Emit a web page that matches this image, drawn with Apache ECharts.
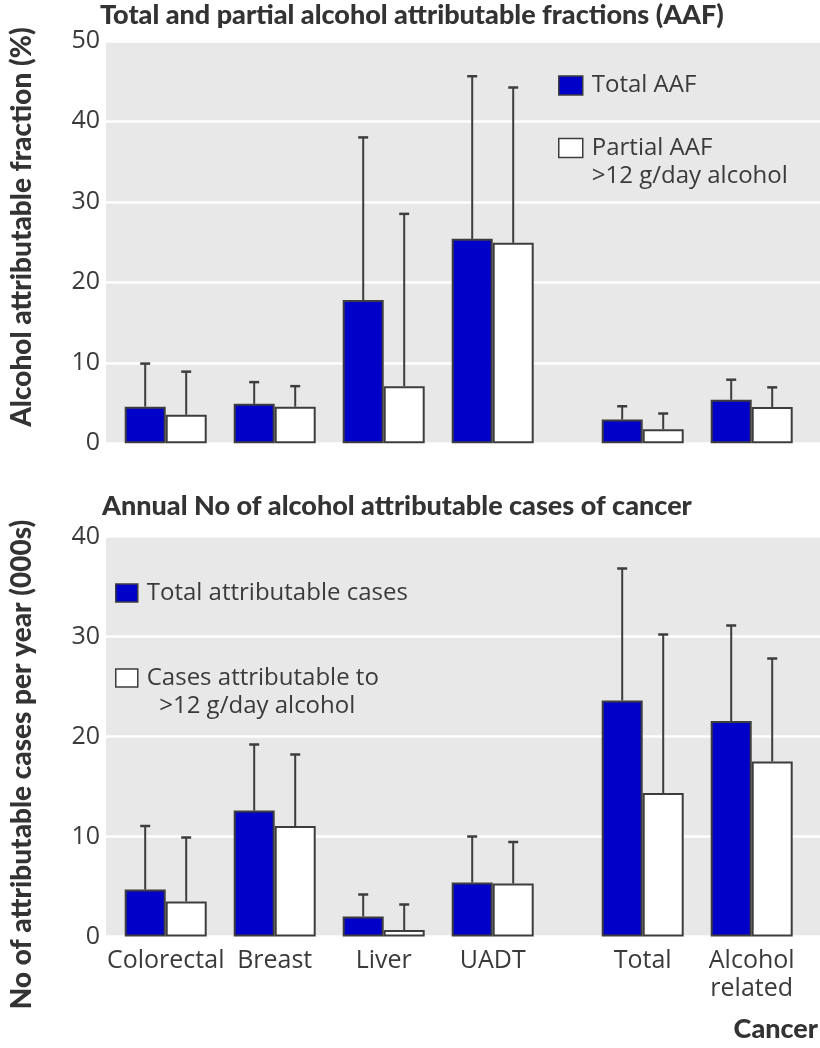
<!DOCTYPE html>
<html>
<head>
<meta charset="utf-8">
<script src="https://cdn.jsdelivr.net/npm/echarts@6/dist/echarts.min.js"></script>
<style>
html,body{margin:0;padding:0;background:#fff;}
#chart{width:820px;height:1048px;}
</style>
</head>
<body>
<div id="chart"></div>
<script>
// ---- data ----
// first four are specific cancers, last two are the summary groups (drawn after a gap)
const categories = ['Colorectal', 'Breast', 'Liver', 'UADT', 'Total', 'Alcohol\nrelated'];
const splitAt = 4;
const aafTicks = [0, 10, 20, 30, 40, 50];
const casesTicks = [0, 10, 20, 30, 40];
const aafTotal = [4.55, 4.9, 17.8, 25.4, 2.95, 5.4];
const aafTotalUpper = [9.9, 7.6, 38.0, 45.6, 4.6, 7.9];
const aafPartial = [3.55, 4.55, 7.1, 24.9, 1.75, 4.5];
const aafPartialUpper = [8.9, 7.1, 28.5, 44.2, 3.7, 6.95];
const casesTotal = [4.7, 12.6, 2.0, 5.4, 23.6, 21.55];
const casesTotalUpper = [11.05, 19.2, 4.2, 10.0, 36.8, 31.1];
const casesPartial = [3.5, 11.05, 0.65, 5.3, 14.35, 17.5];
const casesPartialUpper = [9.9, 18.2, 3.2, 9.45, 30.2, 27.8];

const nameTotalAAF = 'Total AAF';
const namePartialAAF = 'Partial AAF >12 g/day alcohol';
const nameTotalCases = 'Total attributable cases';
const namePartialCases = 'Cases attributable to >12 g/day alcohol';

// ---- style ----
const BLUE = '#0000c8';
const EDGE = '#3d3d3d';
const BG = '#e8e8e8';
const TXT = '#3a3a3a';
const BOLD_FONT = 'Lato, "Open Sans", sans-serif';
const REG_FONT = '"Open Sans", Lato, sans-serif';
const BAR_W = 41;

const chart = echarts.init(document.getElementById('chart'), null, {renderer: 'canvas'});

function part(arr, which) { return which === 0 ? arr.slice(0, splitAt) : arr.slice(splitAt); }

function errSeries(xi, yi, vals, upper, offset) {
  const data = vals.map((v, i) => [i, v, upper[i]]);
  return {
    type: 'custom', xAxisIndex: xi, yAxisIndex: yi, z: 4, silent: true,
    encode: {x: 0, y: 2},
    data: data,
    renderItem: function (params, api) {
      const i = api.value(0), v = api.value(1), e = api.value(2);
      const p0 = api.coord([i, v]);
      const p1 = api.coord([i, e]);
      const x = p0[0] + offset;
      return {
        type: 'group',
        children: [
          {type: 'line', shape: {x1: x, y1: p0[1], x2: x, y2: p1[1]}, style: {stroke: EDGE, lineWidth: 2}},
          {type: 'line', shape: {x1: x - 5, y1: p1[1], x2: x + 5, y2: p1[1]}, style: {stroke: EDGE, lineWidth: 2.5}}
        ]
      };
    }
  };
}

function barSeries(name, xi, yi, vals, color) {
  return {name: name, type: 'bar', xAxisIndex: xi, yAxisIndex: yi, data: vals, barWidth: BAR_W, barGap: '0%',
    itemStyle: {color: color, borderColor: EDGE, borderWidth: 2}};
}

function panelSeries(axisBase, nameA, valsA, upA, nameB, valsB, upB) {
  const out = [];
  [0, 1].forEach(w => {
    const ax = axisBase + 1 + w;
    out.push(barSeries(nameA, ax, ax, part(valsA, w), BLUE));
    out.push(barSeries(nameB, ax, ax, part(valsB, w), '#ffffff'));
    out.push(errSeries(ax, ax, part(valsA, w), part(upA, w), -BAR_W / 2));
    out.push(errSeries(ax, ax, part(valsB, w), part(upB, w), BAR_W / 2));
  });
  return out;
}

function bgY(gridIndex, ticks, name, pad) {
  return {
    type: 'value', gridIndex: gridIndex,
    min: ticks[0], max: ticks[ticks.length - 1], interval: ticks[1] - ticks[0],
    axisLine: {show: false}, axisTick: {show: false},
    splitLine: {show: true, lineStyle: {color: '#ffffff', width: 2.5}},
    axisLabel: {color: TXT, fontFamily: REG_FONT, fontSize: 25, margin: 6},
    name: name, nameLocation: 'middle', nameRotate: 90, nameGap: 70,
    nameTextStyle: {color: '#333', fontFamily: BOLD_FONT, fontWeight: 900, fontSize: 28, padding: pad}
  };
}
function hiddenY(gridIndex, ticks) {
  return {
    type: 'value', gridIndex: gridIndex,
    min: ticks[0], max: ticks[ticks.length - 1], interval: ticks[1] - ticks[0],
    show: false, splitLine: {show: false}
  };
}
function catX(gridIndex, cats, showLabels) {
  return {type: 'category', gridIndex: gridIndex, data: cats,
    axisLine: {show: false}, axisTick: {show: false}, splitLine: {show: false},
    axisLabel: {show: showLabels, color: TXT, fontFamily: REG_FONT, fontSize: 25, lineHeight: 28, margin: 10, interval: 0}};
}

const legendText = {color: TXT, fontFamily: REG_FONT, fontSize: 24, lineHeight: 28, padding: [0, 0, 0, 4]};
const boldTitle = {color: '#333', fontFamily: BOLD_FONT, fontWeight: 900, fontSize: 27};

const option = {
  animation: false,
  backgroundColor: '#ffffff',
  title: [
    {text: 'Total and partial alcohol attributable fractions (AAF)', left: 100, top: 2, padding: 0, textStyle: boldTitle},
    {text: 'Annual No of alcohol attributable cases of cancer', left: 102, top: 493, padding: 0, textStyle: boldTitle},
    {text: 'Cancer', right: 2, top: 1016, padding: 0, textStyle: boldTitle}
  ],
  legend: [
    {data: [nameTotalAAF], left: 558, top: 71.5, padding: 0, itemWidth: 24, itemHeight: 19, selectedMode: false,
      icon: 'rect', itemStyle: {borderColor: EDGE, borderWidth: 1.5}, textStyle: legendText},
    {data: [namePartialAAF], left: 558, top: 106, padding: 0, itemWidth: 24, itemHeight: 19, selectedMode: false,
      icon: 'rect', itemStyle: {borderColor: EDGE, borderWidth: 1.5},
      formatter: function () { return '\nPartial AAF\n>12 g/day alcohol'; },
      textStyle: legendText},
    {data: [nameTotalCases], left: 115, top: 579, padding: 0, itemWidth: 22, itemHeight: 18, selectedMode: false,
      icon: 'rect', itemStyle: {borderColor: EDGE, borderWidth: 1.5}, textStyle: legendText},
    {data: [namePartialCases], left: 115, top: 636, padding: 0, itemWidth: 22, itemHeight: 18, selectedMode: false,
      icon: 'rect', itemStyle: {borderColor: EDGE, borderWidth: 1.5},
      formatter: function () { return '\nCases attributable to\n  >12 g/day alcohol'; },
      textStyle: legendText}
  ],
  grid: [
    {left: 98, right: 0, top: 40.8, height: 402.5, show: true, backgroundColor: BG, borderWidth: 0},
    {left: 111.2, width: 436, top: 40.8, height: 402.5},
    {left: 588.2, width: 218, top: 40.8, height: 402.5},
    {left: 98, right: 0, top: 536.5, height: 400, show: true, backgroundColor: BG, borderWidth: 0},
    {left: 111.2, width: 436, top: 536.5, height: 400},
    {left: 588.2, width: 218, top: 536.5, height: 400}
  ],
  xAxis: [
    {type: 'category', gridIndex: 0, data: [''], show: false},
    catX(1, part(categories, 0), false),
    catX(2, part(categories, 1), false),
    {type: 'category', gridIndex: 3, data: [''], show: false},
    catX(4, part(categories, 0), true),
    catX(5, part(categories, 1), true)
  ],
  yAxis: [
    bgY(0, aafTicks, 'Alcohol attributable fraction (%)', [0, 0, 0, 30]),
    hiddenY(1, aafTicks),
    hiddenY(2, aafTicks),
    bgY(3, casesTicks, 'No of attributable cases per year (000s)', [0, 56, 0, 0]),
    hiddenY(4, casesTicks),
    hiddenY(5, casesTicks)
  ],
  series: [].concat(
    panelSeries(0, nameTotalAAF, aafTotal, aafTotalUpper, namePartialAAF, aafPartial, aafPartialUpper),
    panelSeries(3, nameTotalCases, casesTotal, casesTotalUpper, namePartialCases, casesPartial, casesPartialUpper)
  )
};
chart.setOption(option);
</script>
</body>
</html>
